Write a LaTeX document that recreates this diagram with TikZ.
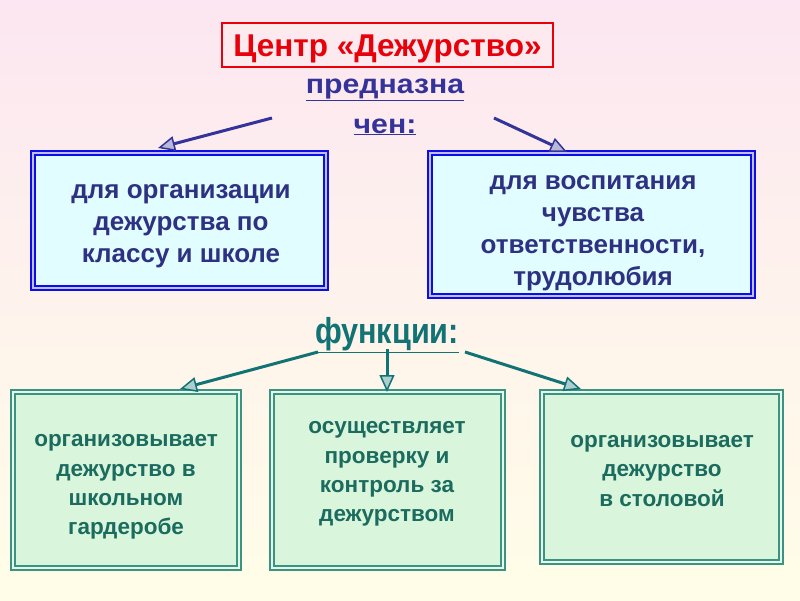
\documentclass[tikz,border=0pt]{standalone}
\usepackage{fontspec}
\setmainfont{Liberation Sans}
\usetikzlibrary{arrows.meta}
\definecolor{navyc}{HTML}{333399}
\definecolor{navyt}{HTML}{2E3182}
\definecolor{tealc}{HTML}{117373}
\definecolor{tealb}{HTML}{3A9484}
\definecolor{tealt}{HTML}{1B6B5E}
\definecolor{redc}{HTML}{E8000B}
\definecolor{cyanf}{HTML}{E2FDFF}
\definecolor{greenf}{HTML}{D9F5DC}
\tikzset{
  topbox/.style={draw=blue!75!navyc, line width=2pt, double=blue!25, double distance=1.3pt, fill=cyanf, inner sep=0pt},
  botbox/.style={draw=tealb, line width=1.8pt, double=greenf!60!white, double distance=1.8pt, fill=greenf, inner sep=0pt},
  toptext/.style={font=\bfseries\fontsize{26}{32}\selectfont, text=navyt, align=center, inner sep=0pt},
  bottext/.style={font=\bfseries\fontsize{22.5}{29.3}\selectfont, text=tealt, align=center, inner sep=0pt},
  predtext/.style={font=\bfseries\fontsize{27}{30}\selectfont, text=navyc, inner sep=0pt, anchor=base},
  navyarrow/.style={draw=navyc, line width=3pt, -{Triangle[length=17pt, width=15pt, line width=1.5pt, fill=navyc!35!white]}},
  tealarrow/.style={draw=tealc, line width=3pt, -{Triangle[length=17pt, width=15pt, line width=1.5pt, fill=tealc!35!white]}},
}
\begin{document}
\begin{tikzpicture}[x=1pt,y=-1pt]
\shade[top color={rgb,255:red,252;green,230;blue,241}, bottom color={rgb,255:red,255;green,253;blue,232}, middle color={rgb,255:red,254;green,243;blue,236}] (0,0) rectangle (800,600);
\useasboundingbox (0,0) rectangle (800,600);
% title
\node[draw=redc, line width=2pt, fill={rgb,255:red,253;green,234;blue,238}, minimum width=331pt, minimum height=44pt, inner sep=0pt,
  text height=25pt, text depth=2pt,
  font=\bfseries\fontsize{31.5}{36}\selectfont, text=redc] (title) at (387.5,44.5) {Центр «Дежурство»};
\node[predtext] (pred) at (385,93) {\scalebox{1.12}[1]{\underline{предназна}}};
\node[predtext] (pred2) at (385,133) {\scalebox{1.12}[1]{\underline{чен:}}};
\coordinate (pl) at (272,118);
\coordinate (pr) at (494,118);
% top boxes
\node[topbox, minimum width=293pt, minimum height=135pt] (b1) at (179.5,220.5) {};
\node[toptext] (b1t) at (181,226) {для организации\\дежурства по\\ классу и школе};
\node[topbox, minimum width=323pt, minimum height=143pt] (b2) at (591.5,224.5) {};
\node[toptext] (b2t) at (593,233) {для воспитания\\чувства\\ответственности,\\трудолюбия};
\draw[navyarrow] (pl) -- (158,148);
\draw[navyarrow] (pr) -- (567,152);
% functions
\node[font=\bfseries\fontsize{36}{40}\selectfont, text=tealc, inner sep=0pt] (func) at (387,335)
  {\scalebox{0.85}[1]{\underline{функции:}}};
\node[botbox, minimum width=226pt, minimum height=176pt] (c1) at (126,480) {};
\node[bottext] (c1t) at (126,487) {организовывает\\дежурство в\\ школьном\\гардеробе};
\node[botbox, minimum width=231pt, minimum height=176pt] (c2) at (387.5,480) {};
\node[bottext] (c2t) at (387,474) {осуществляет\\проверку и\\контроль за\\дежурством};
\node[botbox, minimum width=239pt, minimum height=170pt] (c3) at (661.5,477) {};
\node[bottext] (c3t) at (662,471) {организовывает\\дежурство\\в столовой};
\coordinate (fl) at (318,352);
\coordinate (fm) at (387,349);
\coordinate (fr) at (465,352);
\draw[tealarrow] (fl) -- (180,389);
\draw[tealarrow] (fm) -- (387,392);
\draw[tealarrow] (fr) -- (581,389);
\end{tikzpicture}
\end{document}
